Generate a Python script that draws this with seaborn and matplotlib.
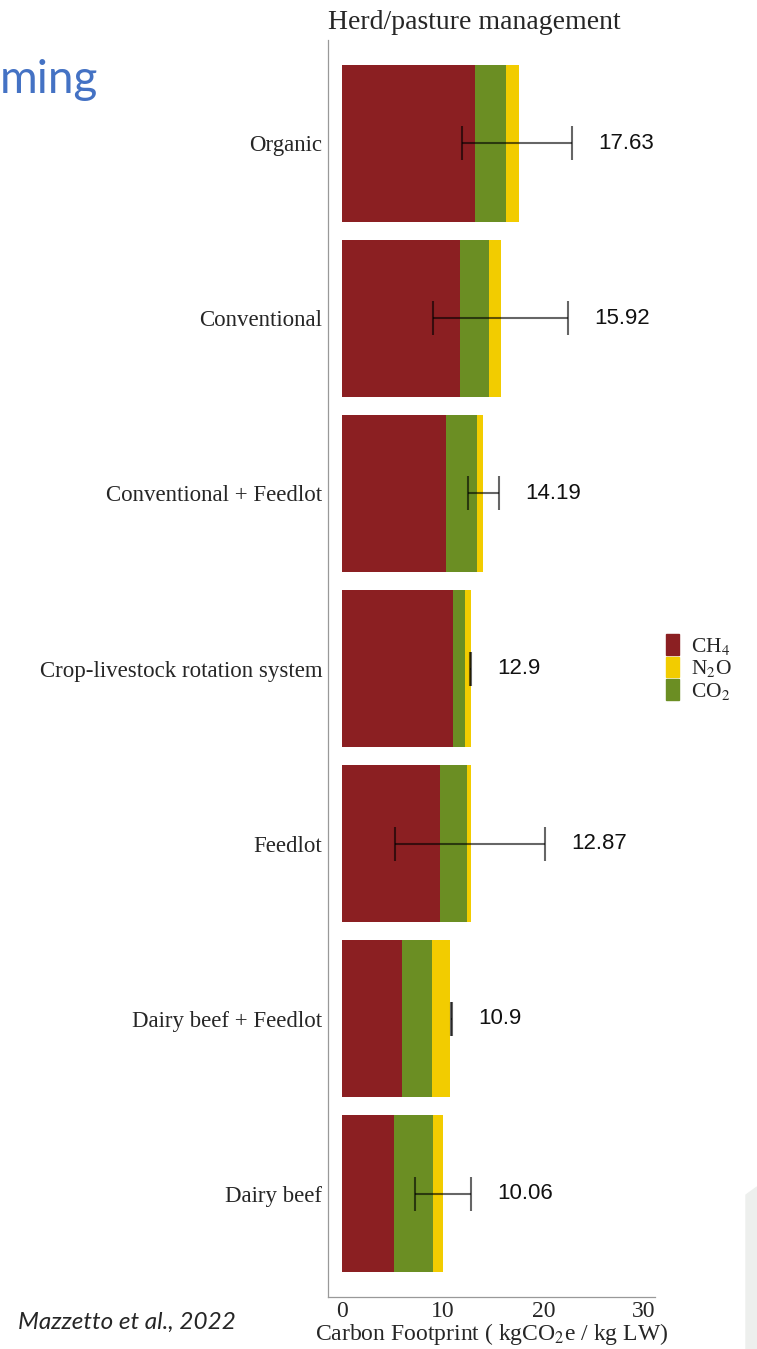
import matplotlib
matplotlib.use("Agg")
import matplotlib.pyplot as plt
import seaborn as sns
import numpy as np
import pandas as pd
from matplotlib.patches import Patch, Polygon

# values (kgCO2e / kg LW)
systems = ["Organic", "Conventional", "Conventional + Feedlot",
           "Crop-livestock rotation system", "Feedlot",
           "Dairy beef + Feedlot", "Dairy beef"]
ch4 = [13.2, 11.7, 10.3, 11.0, 9.7, 6.0, 5.2]
co2 = [3.05, 2.9, 3.1, 1.2, 2.7, 2.9, 3.8]
n2o = [1.3, 1.15, 0.6, 0.6, 0.45, 1.85, 1.0]
total_labels = ["17.63", "15.92", "14.19", "12.9", "12.87", "10.9", "10.06"]
err_low = [11.9, 9.0, 12.55, 12.7, 5.3, 10.85, 7.25]
err_high = [22.9, 22.5, 15.6, 12.85, 20.2, 10.95, 12.8]

red = "#8B1F22"
green = "#6B8E23"
yellow = "#F2CC00"

sns.set_style("white")
plt.rcParams['font.family'] = ['Liberation Serif', 'DejaVu Serif']
plt.rcParams['mathtext.fontset'] = 'stix'

df = pd.DataFrame({"system": systems, "CH4": ch4, "CO2": co2, "N2O": n2o})
df["CH4_CO2"] = df["CH4"] + df["CO2"]
df["all"] = df["CH4_CO2"] + df["N2O"]

fig = plt.figure(figsize=(7.57, 13.49), dpi=100)
ax = fig.add_axes([328 / 757, 1 - 1297 / 1349, 327 / 757, 1257 / 1349])

# stacked bars: draw cumulative totals from back to front
for col, colr in [("all", yellow), ("CH4_CO2", green), ("CH4", red)]:
    sns.barplot(data=df, y="system", x=col, color=colr, width=0.9,
                saturation=1, errorbar=None, linewidth=0, orient="h", ax=ax)

pos = np.arange(len(systems))
lo = np.array(err_low)
hi = np.array(err_high)
ax.errorbar((lo + hi) / 2, pos, xerr=(hi - lo) / 2, fmt="none",
            ecolor="black", alpha=0.6, elinewidth=1.5, capsize=12.5, capthick=1.5)

for i, lab in enumerate(total_labels):
    ax.text(err_high[i] + 2.6, i, lab, va="center", ha="left",
            fontsize=16, family="Liberation Sans", color="#111111")

ax.set_xlim(-1.4, 31.1)
ax.set_ylim(6.59, -0.59)
ax.set_xticks([0, 10, 20, 30])
ax.set_ylabel("")
ax.set_xlabel("Carbon Footprint ( kgCO$_2$e / kg LW)", fontsize=17, labelpad=-1)
ax.set_title("Herd/pasture management", loc="left", fontsize=20, pad=8)
ax.tick_params(axis="y", length=3, color="#999999", pad=1, labelsize=16.5)
ax.tick_params(axis="x", length=3, color="#999999", pad=0, labelsize=17)
sns.despine(ax=ax)
for s in ["left", "bottom"]:
    ax.spines[s].set_color("#999999")
    ax.spines[s].set_linewidth(0.9)

handles = [Patch(color=red, label="CH$_4$"),
           Patch(color=yellow, label="N$_2$O"),
           Patch(color=green, label="CO$_2$")]
fig.legend(handles=handles, loc="center left",
           bbox_to_anchor=(666 / 757, 1 - 668 / 1349), frameon=False,
           fontsize=15.5, handlelength=0.62, handleheight=1.1,
           labelspacing=0.0, handletextpad=0.55, borderpad=0,
           borderaxespad=0)

fig.text(0.0, 1 - 80 / 1349, "ming", color="#4472C4", fontsize=33,
         family="Lato", va="center", ha="left")
fig.text(18 / 757, 1 - 1322 / 1349, "Mazzetto et al., 2022", fontsize=17.5,
         family="Lato", style="italic", va="center", ha="left")
fig.patches.append(Polygon([[746 / 757, 0], [1, 0], [1, 1 - 1187 / 1349],
                            [746 / 757, 1 - 1195 / 1349]],
                           closed=True, transform=fig.transFigure,
                           color="#EDEFED", zorder=0))

fig.savefig("out.png", dpi=100)
